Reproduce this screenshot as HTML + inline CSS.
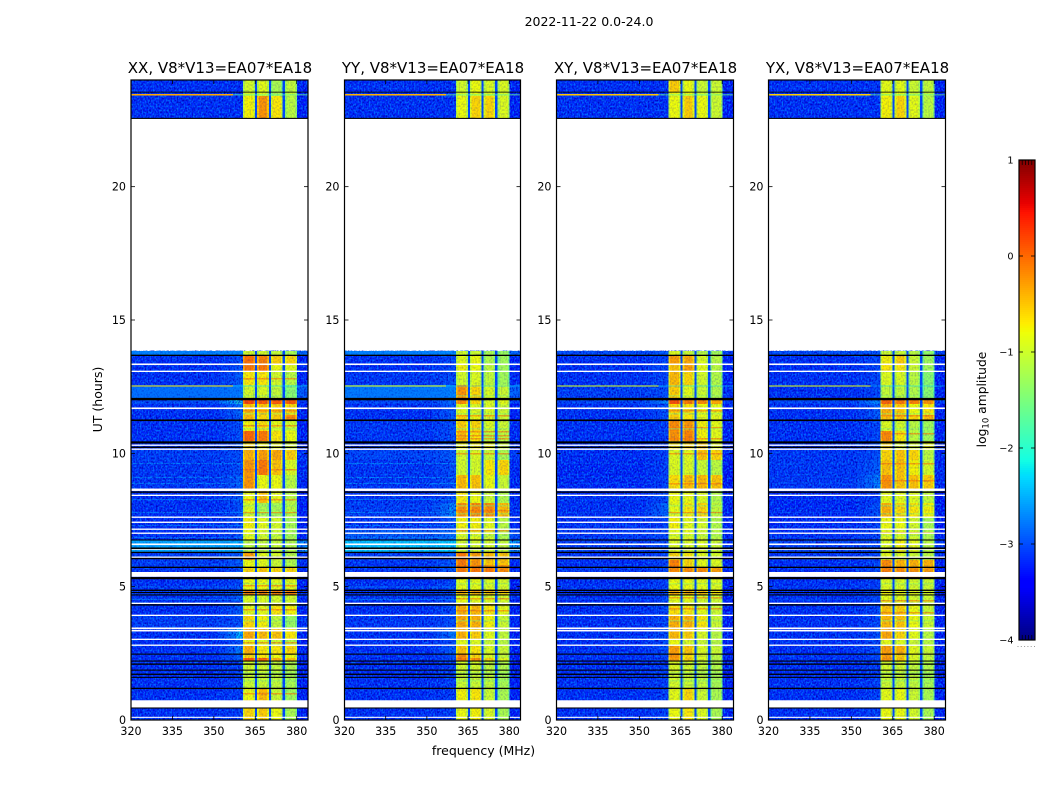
<!DOCTYPE html>
<html lang="en">
<head>
<meta charset="utf-8">
<title>2022-11-22 0.0-24.0</title>
<style>
html,body{margin:0;padding:0;background:#fff;width:1050px;height:800px;overflow:hidden}
svg{display:block}
text{font-family:"DejaVu Sans","Liberation Sans",sans-serif;fill:#000}
</style>
</head>
<body>
<svg id="chart" xmlns="http://www.w3.org/2000/svg" width="1050" height="800" viewBox="0 0 1050 800">
  <defs>
    <filter id="grain-light" x="0" y="0" width="100%" height="100%" color-interpolation-filters="sRGB">
      <feTurbulence type="fractalNoise" baseFrequency="0.62 0.5" numOctaves="1" seed="4"/>
      <feColorMatrix type="matrix" values="0 0 0 0 0  0 0 0 0 0.42  0 0 0 0 1  3.2 0 0 0 -1.35"/>
    </filter>
    <filter id="grain-dark" x="0" y="0" width="100%" height="100%" color-interpolation-filters="sRGB">
      <feTurbulence type="fractalNoise" baseFrequency="0.66 0.52" numOctaves="1" seed="11"/>
      <feColorMatrix type="matrix" values="0 0 0 0 0  0 0 0 0 0  0 0 0 0 0.72  2.8 0 0 0 -1.15"/>
    </filter>
  </defs>
  <text x="589" y="26" text-anchor="middle" font-size="12.5">2022-11-22 0.0-24.0</text>
  <text x="483.5" y="755" text-anchor="middle" font-size="12.5">frequency (MHz)</text>
  <text transform="translate(102 399.5) rotate(-90)" text-anchor="middle" font-size="12.5">UT (hours)</text>
  <text transform="translate(986 399.5) rotate(-90)" text-anchor="middle" font-size="12.3">log<tspan font-size="8.5" dy="2.5">10</tspan><tspan dy="-2.5"> amplitude</tspan></text>
  <g id="panels"></g>
  <g id="colorbar"></g>
</svg>
<script>
const panelTitles = ["XX, V8*V13=EA07*EA18", "YY, V8*V13=EA07*EA18", "XY, V8*V13=EA07*EA18", "YX, V8*V13=EA07*EA18"];
const hourTicks = [0, 5, 10, 15, 20];
const freqTicks = [320, 335, 350, 365, 380];
const colorbarTicks = [1, 0, -1, -2, -3, -4];

/* spectral windows, MHz */
const windowStartMHz = [360.6, 365.7, 370.7, 375.8];
const windowEndMHz = [364.9, 369.9, 374.9, 380.1];

/* time bands, hours (top to bottom); one row of values between each pair of edges */
const rowEdgeHours = [24.00,23.55,23.40,22.58,13.84,13.69,13.35,13.09,12.56,12.04,11.85,11.44,11.25,10.84,10.46,10.13,9.75,9.19,8.63,8.14,7.61,7.13,6.75,6.30,6.00,5.74,5.33,4.88,4.69,4.35,3.90,3.41,3.00,2.78,2.48,2.33,2.21,1.69,1.20,0.75,0];

/* each row: log10 amplitude of [background, rise before first window, window1..window4] */
const rowsXX = [
[-3.2,-3.2,-.95,-.85,-1.2,-1.05],[-3.2,-3.2,-.9,-.9,-1.2,-1.05],[-3.2,-3.2,-.75,-.25,-.7,-1.1],null,
[-2.7,-2.6,-.95,-.95,-1.05,-1.2],[-3.2,-3.0,-.05,-.15,-.55,-.6],[-3.2,-3.0,-.1,-.1,-.8,-.85],[-3.2,-2.9,-.7,-.7,-.95,-1.1],
[-2.8,-2.6,-.95,-.9,-1.05,-1.4],[-3.0,-2.1,.15,.05,.05,.05],[-3.2,-2.8,-.5,-.5,-.55,-.6],[-3.2,-2.9,-.45,-.6,-.55,-.2],
[-3.2,-3.0,-.75,-.65,-.85,-.95],[-3.2,-3.0,0,-.1,-.7,-.8],[-3.2,-3.0,-.65,-.8,-.85,-.95],[-3.1,-3.0,-.4,-.3,-.35,-.55],
[-3.15,-3,-.25,-.1,-.5,-.9],[-3.15,-2.9,-.25,-.8,-.8,-1.1],[-3.2,-2.9,-.8,-.5,-.85,-1.1],[-3.2,-3,-.9,-1.2,-1.2,-1.1],
[-3.2,-3,-.75,-.85,-.95,-1.2],[-3.2,-3,-.8,-.9,-1,-1.2],[-2.5,-2.4,-1.1,-1.05,-1.05,-1.15],[-3.1,-2.9,-.3,-.85,-.95,-1.1],
[-3.1,-2.9,-.8,-.85,-1,-1.15],[-3.2,-3,-.6,-.5,-.6,-.6],[-3.2,-3.05,-.8,-.8,-.85,-.85],[-3.1,-2.9,-.15,-.15,-.15,-.15],
[-3.15,-2.9,-.9,-.9,-.95,-.95],[-3.2,-2.9,-.85,-.85,-.7,-.75],[-3.1,-3,-.6,-.75,-1.05,-1.3],[-3.2,-2.4,-.35,-.45,-.5,-.7],
[-3.2,-3,-.8,-.9,-1,-1.1],[-3.2,-2.7,-.4,-.7,-.7,-.6],[-3.2,-2.9,-.6,-.7,-.8,-.8],[-3.2,-2.9,.05,0,-.4,-.5],
[-3.2,-3.1,-.95,-.95,-1.05,-1.15],[-3.2,-3.1,-1,-1,-1.05,-1.2],[-3.2,-3.1,-.8,-.45,-1,-1.25],[-3.2,-3.1,-.6,-.55,-.8,-1.2]
];
const rowsYY = [
[-3.2,-3.2,-.95,-.8,-.9,-.9],[-3.2,-3.2,-.9,-.85,-.9,-.95],[-3.2,-3.2,-.8,-.6,-.6,-.9],null,
[-2.7,-2.6,-.95,-1,-1.2,-1.3],[-3.2,-3.05,-.85,-.8,-1.15,-1.25],[-3.2,-3.05,-.75,-.8,-1.05,-1.25],[-3.15,-3,-.95,-.9,-1.05,-1.25],
[-2.75,-2.6,-.25,-.6,-.9,-1],[-3.05,-2.8,-.2,-.6,-.9,-.85],[-3.2,-2.9,-.85,-.9,-.9,-1],[-3.2,-2.9,-.6,-.8,-.9,-1],
[-3.15,-3,-.55,-.6,-.9,-1],[-3.15,-3,-.45,-.7,-1.1,-1.1],[-3.2,-3,-.8,-.75,-.8,-1],[-3.05,-2.9,-.95,-.9,-1,-1.2],
[-3.15,-3,-.95,-.95,-.7,-.6],[-3.15,-3,-.45,-.5,-.8,-1],[-3.15,-3,-.7,-.8,-1,-1.15],[-3.1,-2.6,-.25,-.2,-.2,-.45],
[-3.15,-3,-.75,-.75,-.85,-1.1],[-2.9,-2.8,-.85,-.85,-.95,-1.15],[-2.35,-2.3,-.95,-.95,-.95,-1.05],[-3.1,-2.9,-.1,-.3,-.45,-.5],
[-3.15,-2.9,-.1,-.25,-.5,-.5],[-3.15,-2.9,-.1,-.1,-.1,-.2],[-3.2,-3.05,-.85,-.85,-.9,-.95],[-3.15,-3,-.45,-.45,-.55,-.65],
[-3.15,-3,-.8,-.85,-.9,-.95],[-3.2,-3,-.4,-.45,-.7,-.85],[-3.15,-3,-.35,-.4,-.75,-1],[-3.2,-2.7,-.4,-.55,-.85,-1.05],
[-3.2,-3,-.85,-.9,-1,-1.1],[-3.2,-2.9,-.5,-.7,-.9,-1],[-3.2,-3,-.2,-.6,-.9,-1.05],[-3.2,-3,-.1,-.2,-.6,-.85],
[-3.2,-3.1,-.95,-.95,-1.05,-1.15],[-3.2,-3.1,-1,-1,-1.05,-1.2],[-3.2,-3.1,-.75,-.7,-1,-1.2],[-3.2,-3.1,-.8,-.75,-.9,-1.2]
];
const rowsXY = [
[-3.2,-3.2,-.55,-.8,-1,-1],[-3.2,-3.2,-.8,-.8,-1,-1],[-3.2,-3.2,-.8,-.55,-.8,-1],null,
[-3.0,-2.95,-.9,-1,-1.1,-1.25],[-3.2,-3.05,-.3,-.35,-.9,-1.1],[-3.2,-3.05,-.5,-.3,-.85,-1.1],[-3.2,-3.05,-.45,-.6,-.95,-1.15],
[-3.1,-3,-.55,-.85,-1,-1.15],[-3.05,-2.6,.1,-.1,-.2,-.35],[-3.2,-3,-.6,-.65,-.8,-.85],[-3.2,-3,-.55,-.7,-.85,-.85],
[-3.2,-3.1,-.2,-.25,-.75,-.85],[-3.2,-3.1,-.25,-.15,-.75,-.85],[-3.2,-3.1,-.7,-.6,-.55,-.85],[-3.2,-3.1,-.9,-.85,-.5,-.6],
[-3.25,-3.1,-.9,-.9,-1,-1.1],[-3.25,-3.1,-.65,-.45,-.45,-.5],[-3.2,-3,-.8,-.8,-.9,-1.15],[-3.2,-2.8,-.85,-.7,-.6,-1.05],
[-3.2,-3.1,-.75,-.85,-.95,-1.15],[-3.15,-3.05,-.85,-.85,-.95,-1.1],[-3.1,-3,-.9,-.9,-.9,-1],[-3.2,-3.05,-.6,-.7,-.85,-.95],
[-3.2,-3.05,-.15,-.6,-.85,-.9],[-3.15,-3,-.2,-.2,-.2,-.3],[-3.2,-3.1,-.8,-.8,-.85,-.9],[-3.2,-3.05,-.4,-.4,-.5,-.7],
[-3.2,-3.05,-.85,-.85,-.95,-1],[-3.2,-3.05,-.65,-.7,-.85,-1],[-3.2,-3.05,-.4,-.4,-.7,-1],[-3.2,-3,-.45,-.55,-.9,-1.1],
[-3.2,-3.05,-.8,-.9,-1,-1.1],[-3.2,-3,-.3,-.5,-.9,-1],[-3.2,-3.05,-.25,-.6,-.9,-1.1],[-3.2,-3.05,-.3,-.55,-.9,-1.1],
[-3.2,-3.1,-.9,-.95,-1.05,-1.15],[-3.2,-3.1,-.95,-1,-1.05,-1.2],[-3.2,-3.1,-.85,-.6,-1,-1.2],[-3.2,-3.1,-.8,-.7,-.9,-1.2]
];
const rowsYX = [
[-3.2,-3.2,-.85,-.85,-1,-1.05],[-3.2,-3.2,-.85,-.85,-1,-1.05],[-3.2,-3.2,-.75,-.6,-.85,-1.1],null,
[-3.0,-2.95,-1,-1,-1.1,-1.35],[-3.2,-3.05,-.75,-.55,-1,-1.25],[-3.2,-3.05,-.7,-.7,-1,-1.25],[-3.2,-3.05,-.9,-.9,-1.1,-1.4],
[-3.2,-3.05,-1.05,-1.05,-1.15,-1.4],[-3.05,-2.6,0,-.1,-.15,-.25],[-3.2,-2.9,-.4,-.5,-.8,-.7],[-3.2,-2.9,-.5,-.5,-.6,-.45],
[-3.2,-3.05,-.9,-.95,-1.1,-1.25],[-3.2,-3.05,-.2,-.7,-1.1,-1.25],[-3.2,-3.05,-.6,-.9,-.95,-.8],[-3.15,-3,-.6,-.5,-.6,-1.1],
[-3.15,-2.9,-.5,-.5,-.75,-.95],[-3.15,-2.6,-.25,-.5,-.5,-.55],[-3.25,-3.1,-.85,-.85,-.9,-1.05],[-3.25,-3,-.4,-.6,-.7,-.75],
[-3.25,-3.1,-.8,-.8,-.95,-1.2],[-3.2,-3.05,-.85,-.85,-.95,-1.15],[-3.05,-3,-.9,-.75,-.85,-1.1],[-3.15,-3.05,-.85,-.9,-1,-1.1],
[-3.2,-3.05,-.2,-.4,-.4,-.4],[-3.2,-3,-.15,-.2,-.25,-.3],[-3.2,-3.1,-.9,-.9,-.95,-1],[-3.2,-3.05,-.75,-.8,-.85,-.9],
[-3.2,-3.05,-.85,-.85,-.95,-1],[-3.2,-3.05,-.5,-.55,-.8,-1],[-3.2,-3.05,-.45,-.5,-.8,-1],[-3.2,-3,-.35,-.6,-.85,-1.1],
[-3.2,-3.05,-.85,-.9,-1,-1.1],[-3.2,-3,-.3,-.4,-.85,-1],[-3.2,-3.05,-.3,-.55,-.9,-1.05],[-3.2,-3.05,-.25,-.5,-.9,-1.05],
[-3.2,-3.1,-.95,-.95,-1.05,-1.15],[-3.2,-3.1,-1,-1,-1.05,-1.2],[-3.2,-3.1,-.85,-.8,-1,-1.2],[-3.2,-3.1,-.8,-.8,-.95,-1.2]
];
const panelRows = [rowsXX, rowsYY, rowsXY, rowsYX];

/* value of the gaps between windows and of the sky channels past the last window */
const windowGapLevel = -3.0;
const rightEdgeLevel = -3.3;

/* narrow interference lines: [hour, level below 357 MHz, level above] per panel */
const rfiHours = [23.47, 12.55];
const rfiLeftLevels = [[-0.35, -0.6], [-0.4, -0.8], [-0.5, -0.9], [-0.55, -0.85]];
const rfiRightLevels = [-1.6, -2.3];
const rfiEndMHz = 357;

/* faint time-constant streaks in the sky channels */
const streakHours = [9.64, 9.11, 8.89, 8.29, 7.8, 7.31, 6.86, 5.0, 4.54];
const streakLevels = [-2.55, -2.5, -3.0, -3.0];

/* hot stripes inside the spectral windows, hours, per panel */
const hotStripesXX = [12.83, 11.63, 11.06, 9.41, 8.29, 7.80, 5.06, 4.16, 2.93, 1.01];
const hotStripesYY = [11.44, 10.84, 10.69, 10.58, 10.01, 7.88, 7.13, 5.81, 4.88, 4.58, 4.13];
const hotStripesXY = [11.63, 10.99, 10.58, 10.01, 8.89, 7.80, 4.61, 4.20];
const hotStripesYX = [11.44, 10.76, 9.64, 9.00, 7.05, 4.50, 4.05];
const hotStripes = [hotStripesXX, hotStripesYY, hotStripesXY, hotStripesYX];
/* cooler dips shared by all panels, hours */
const coolDipHours = [12.19, 11.51, 10.95, 8.06, 7.76, 6.94, 5.14, 3.75, 1.80, 1.50];

/* flagged rows drawn white, [top hour, bottom hour] */
const whiteFlags = [[13.37,13.31],[13.10,13.05],[11.72,11.66],[10.33,10.28],[10.18,10.13],[8.68,8.59],[8.45,8.40],[7.63,7.58],[7.44,7.39],[7.18,7.13],[7.03,6.98],[6.62,6.56],[6.43,6.38],[6.13,6.08],[5.55,5.37],[4.40,4.35],[3.95,3.90],[3.47,3.41],[3.38,3.32],[3.05,3.00],[2.83,2.78],[0.74,0.45],[0.12,0.08]];
/* zero-amplitude rows drawn black, [top hour, bottom hour] */
const blackFlags = [[23.56,23.53],[22.58,22.54],[13.70,13.65],[12.08,11.99],[11.27,11.21],[10.45,10.37],[10.25,10.20],[8.57,8.52],[6.77,6.73],[6.47,6.41],[6.31,6.26],[6.08,6.03],[5.75,5.70],[5.36,5.28],[4.89,4.84],[4.80,4.76],[4.71,4.67],[4.34,4.29],[2.49,2.45],[2.23,2.19],[2.12,2.07],[1.89,1.85],[1.74,1.69],[1.62,1.58],[1.21,1.16],[0.47,0.43]];

/* ---------- layout and scales ---------- */
const NS = "http://www.w3.org/2000/svg";
const panelLeft = [131, 344.5, 556.5, 768.5];
const panelWidth = [177, 176, 177, 177];
const plotTop = 80, plotBottom = 720;
const freqMin = 320, freqMax = 384.1, hourMin = 0, hourMax = 24;
const levelMin = -4, levelMax = 1;
const cbarLeft = 1019, cbarRight = 1035, cbarTop = 160, cbarBottom = 640;

function yOfHour(h) { return plotBottom - (h - hourMin) / (hourMax - hourMin) * (plotBottom - plotTop); }
function xOfFreq(p, f) { return panelLeft[p] + (f - freqMin) / (freqMax - freqMin) * panelWidth[p]; }
function yOfLevel(v) { return cbarBottom - (v - levelMin) / (levelMax - levelMin) * (cbarBottom - cbarTop); }

const jetRed = [[0,0],[.35,0],[.66,1],[.89,1],[1,.5]];
const jetGreen = [[0,0],[.125,0],[.375,1],[.64,1],[.91,0],[1,0]];
const jetBlue = [[0,.5],[.11,1],[.34,1],[.65,0],[1,0]];
function channel(stops, t) {
  for (let i = 1; i < stops.length; i++) {
    if (t <= stops[i][0]) {
      const a = stops[i - 1], b = stops[i];
      return a[1] + (b[1] - a[1]) * (t - a[0]) / (b[0] - a[0]);
    }
  }
  return stops[stops.length - 1][1];
}
function levelColor(v) {
  const t = Math.max(0, Math.min(1, (v - levelMin) / (levelMax - levelMin)));
  return "rgb(" + Math.round(channel(jetRed, t) * 255) + "," + Math.round(channel(jetGreen, t) * 255) + "," + Math.round(channel(jetBlue, t) * 255) + ")";
}
function make(tag, parent, attrs) {
  const node = document.createElementNS(NS, tag);
  for (const k in attrs) node.setAttribute(k, attrs[k]);
  parent.appendChild(node);
  return node;
}

/* ---------- panels ---------- */
const panelsRoot = document.getElementById("panels");
panelTitles.forEach(function (title, p) {
  const left = panelLeft[p], width = panelWidth[p], right = left + width;
  const group = make("g", panelsRoot, {});
  
  

  const clip = make("clipPath", group, { id: "clip-" + p });
  make("rect", clip, { x: left, y: plotTop, width: width, height: plotBottom - plotTop });

  const heat = make("g", group, { "clip-path": "url(#clip-" + p + ")", "shape-rendering": "crispEdges" });
  
  

  const rows = panelRows[p];
  const rampStart = [352, 355, 358];
  const rampShare = [0.3, 0.6, 1];
  const windowLeft = xOfFreq(p, windowStartMHz[0]);
  const windowRight = xOfFreq(p, windowEndMHz[3]);

  /* sky channels */
  rows.forEach(function (row, r) {
    if (!row) return;
    const y0 = yOfHour(rowEdgeHours[r]), y1 = yOfHour(rowEdgeHours[r + 1]);
    const sky = make("rect", heat, { x: left, y: y0, width: width, height: y1 - y0, fill: levelColor(row[0]) });
    
    
    rampStart.forEach(function (f, i) {
      const x0 = xOfFreq(p, f);
      const ramp = make("rect", heat, { x: x0, y: y0, width: windowLeft - x0, height: y1 - y0, fill: levelColor(row[0] + (row[1] - row[0]) * rampShare[i]) });
      
      
    });
    const rightBand = make("rect", heat, { x: windowRight, y: y0, width: right - windowRight, height: y1 - y0, fill: levelColor(Math.min(row[0], rightEdgeLevel + (row[0] + 3.2))) });
    
    
  });

  /* streaks */
  streakHours.forEach(function (h) {
    const sy = yOfHour(h);
    const streak = make("rect", heat, { x: left, y: sy, width: windowLeft - left, height: 1, fill: levelColor(streakLevels[p]), opacity: 0.7 });
    
    
  });

  /* speckle across the data blocks */
  const gapRow = rows.indexOf(null);
  const blockTop = [rowEdgeHours[0], rowEdgeHours[gapRow + 1]];
  const blockBottom = [rowEdgeHours[gapRow], rowEdgeHours[rowEdgeHours.length - 1]];
  blockTop.forEach(function (h, b) {
    const y0 = yOfHour(h), y1 = yOfHour(blockBottom[b]);
    make("rect", heat, { x: left, y: y0, width: width, height: y1 - y0, filter: "url(#grain-dark)", fill: "#000" });
    make("rect", heat, { x: left, y: y0, width: width, height: y1 - y0, filter: "url(#grain-light)", fill: "#000" });
  });

  /* bright sky bands stay smooth over the speckle */
  rows.forEach(function (row, r) {
    if (!row || row[0] <= -2.85) return;
    const y0 = yOfHour(rowEdgeHours[r]), y1 = yOfHour(rowEdgeHours[r + 1]);
    const glow = make("rect", heat, { x: left, y: y0, width: windowLeft - left, height: y1 - y0, fill: levelColor(row[0]), opacity: 0.6 });
    
    
  });

  /* spectral windows */
  rows.forEach(function (row, r) {
    if (!row) return;
    const y0 = yOfHour(rowEdgeHours[r]), y1 = yOfHour(rowEdgeHours[r + 1]);
    windowStartMHz.forEach(function (f0, w) {
      const x0 = xOfFreq(p, f0), x1 = xOfFreq(p, windowEndMHz[w]);
      const v = row[2 + w];
      const cell = make("rect", heat, { x: x0, y: y0, width: x1 - x0, height: y1 - y0, fill: levelColor(v) });
      
      
      const soft = v - 0.28;
      const edgeA = make("rect", heat, { x: x0, y: y0, width: 1.6, height: y1 - y0, fill: levelColor(soft) });
      
      
      const edgeB = make("rect", heat, { x: x1 - 1.6, y: y0, width: 1.6, height: y1 - y0, fill: levelColor(soft) });
      
      
      if (w < windowStartMHz.length - 1) {
        const gx = xOfFreq(p, windowStartMHz[w + 1]);
        const gap = make("rect", heat, { x: x1, y: y0, width: gx - x1, height: y1 - y0, fill: levelColor(windowGapLevel) });
        
        
      }
    });
  });

  /* stripes inside the windows */
  const stripeLayer = make("g", heat, {});
  hotStripes[p].forEach(function (h) {
    windowStartMHz.forEach(function (f0, w) {
      const x0 = xOfFreq(p, f0), x1 = xOfFreq(p, windowEndMHz[w]);
      const stripe = make("rect", stripeLayer, { x: x0, y: yOfHour(h), width: x1 - x0, height: 1.4, fill: levelColor(-0.1), opacity: 0.6 });
      
      
    });
  });
  coolDipHours.forEach(function (h) {
    windowStartMHz.forEach(function (f0, w) {
      const x0 = xOfFreq(p, f0), x1 = xOfFreq(p, windowEndMHz[w]);
      const dip = make("rect", stripeLayer, { x: x0, y: yOfHour(h), width: x1 - x0, height: 1.4, fill: levelColor(-1.45), opacity: 0.4 });
      
      
    });
  });

  /* light speckle over windows */
  blockTop.forEach(function (h, b) {
    const y0 = yOfHour(h), y1 = yOfHour(blockBottom[b]);
    make("rect", heat, { x: windowLeft, y: y0, width: windowRight - windowLeft, height: y1 - y0, filter: "url(#grain-dark)", fill: "#000", opacity: 0.22 });
  });

  /* interference lines */
  rfiHours.forEach(function (h, i) {
    const ry = yOfHour(h);
    const lineA = make("rect", heat, { x: left, y: ry, width: xOfFreq(p, rfiEndMHz) - left, height: 1.2, fill: levelColor(rfiLeftLevels[p][i]) });
    
    
    const lineB = make("rect", heat, { x: xOfFreq(p, rfiEndMHz), y: ry, width: right - xOfFreq(p, rfiEndMHz), height: 1.2, fill: levelColor(rfiRightLevels[i]), opacity: 0.5 });
    
    
  });

  /* flagged rows */
  const flags = make("g", group, { "clip-path": "url(#clip-" + p + ")" });
  whiteFlags.forEach(function (pair) {
    const y0 = yOfHour(pair[0]);
    const flag = make("rect", flags, { x: left, y: y0, width: width, height: yOfHour(pair[1]) - y0, fill: "#fff" });
    
    
  });
  blackFlags.forEach(function (pair) {
    const y0 = yOfHour(pair[0]);
    const flag = make("rect", flags, { x: left, y: y0, width: width, height: yOfHour(pair[1]) - y0, fill: "#000" });
    
    
  });

  /* frame */
  const frame = make("rect", group, { x: left, y: plotTop, width: width, height: plotBottom - plotTop, fill: "none", stroke: "#000", "stroke-width": 1.2 });
  
  

  /* y axis */
  hourTicks.forEach(function (h) {
    const ty = yOfHour(h);
    const tickL = make("line", group, { x1: left, x2: left + 4, y1: ty, y2: ty, stroke: "#000", "stroke-width": 0.8 });
    
    
    const tickR = make("line", group, { x1: right - 4, x2: right, y1: ty, y2: ty, stroke: "#000", "stroke-width": 0.8 });
    
    
    const label = make("text", group, { x: left - 5, y: ty + 4, "text-anchor": "end", "font-size": 11.1 });
    
    
    label.textContent = String(h);
  });

  /* x axis */
  freqTicks.forEach(function (f) {
    const tx = xOfFreq(p, f);
    const tickB = make("line", group, { x1: tx, x2: tx, y1: plotBottom - 4, y2: plotBottom, stroke: "#000", "stroke-width": 0.8 });
    
    
    const tickT = make("line", group, { x1: tx, x2: tx, y1: plotTop, y2: plotTop + 4, stroke: "#000", "stroke-width": 0.8 });
    
    
    const label = make("text", group, { x: tx, y: 735, "text-anchor": "middle", "font-size": 11.1 });
    
    
    label.textContent = String(f);
  });

  const titleText = make("text", group, { x: left + width / 2 + 0.5, y: 73, "text-anchor": "middle", "font-size": 15 });
  
  
  titleText.textContent = title;
});

/* ---------- colorbar ---------- */
const cbar = document.getElementById("colorbar");
const cbarRamp = make("g", cbar, { "shape-rendering": "crispEdges" });


for (let py = cbarTop; py < cbarBottom; py += 2) {
  const level = levelMax - (py + 1 - cbarTop) / (cbarBottom - cbarTop) * (levelMax - levelMin);
  const swatch = make("rect", cbarRamp, { x: cbarLeft, y: py, width: cbarRight - cbarLeft, height: 2, fill: levelColor(level) });
  
  
}
const cbarFrame = make("rect", cbar, { x: cbarLeft, y: cbarTop, width: cbarRight - cbarLeft, height: cbarBottom - cbarTop, fill: "none", stroke: "#000", "stroke-width": 1.2 });


colorbarTicks.forEach(function (v) {
  const ty = yOfLevel(v);
  if (v !== colorbarTicks[0] && v !== colorbarTicks[colorbarTicks.length - 1]) {
    const tickL = make("line", cbar, { x1: cbarLeft, x2: cbarLeft + 4, y1: ty, y2: ty, stroke: "#000", "stroke-width": 0.8 });
    
    
    const tickR = make("line", cbar, { x1: cbarRight - 4, x2: cbarRight, y1: ty, y2: ty, stroke: "#000", "stroke-width": 0.8 });
    
    
  }
  const label = make("text", cbar, { x: 1013.5, y: ty + 3.5, "text-anchor": "end", "font-size": 9.7 });
  
  
  label.textContent = String(v).replace("-", "\u2212");
});
for (let i = 1; i <= 4; i++) {
  const mx = cbarLeft + i * 3.2;
  const minorTop = make("line", cbar, { x1: mx, x2: mx, y1: cbarTop, y2: cbarTop + 5, stroke: "#000", "stroke-width": 0.7 });
  
  
  const minorBottom = make("line", cbar, { x1: mx, x2: mx, y1: cbarBottom - 5, y2: cbarBottom, stroke: "#000", "stroke-width": 0.7 });
  
  
}
for (let i = 0; i < 6; i++) {
  const dot = make("rect", cbar, { x: 1017.5 + i * 3.3, y: 646, width: 1, height: 1, fill: "#999" });
  
  
}
</script>
</body>
</html>
